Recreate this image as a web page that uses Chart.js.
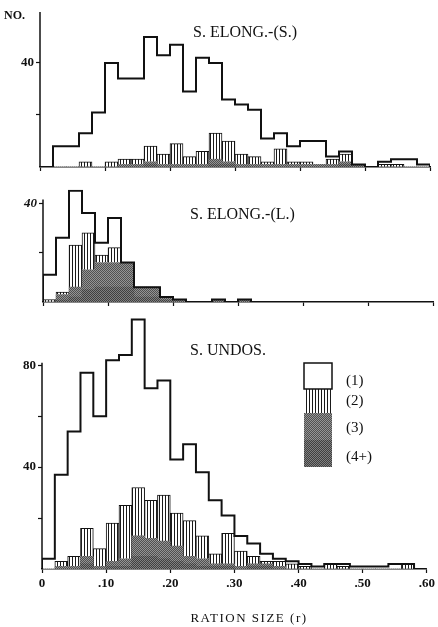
<!DOCTYPE html>
<html>
<head>
<meta charset="utf-8">
<script src="https://cdn.jsdelivr.net/npm/chart.js@4.4.0/dist/chart.umd.min.js"></script>
<style>
  body { margin: 0; background: #fff; }
  #fig { position: relative; width: 438px; height: 627px; overflow: hidden; }
  .panel { position: absolute; left: 0; width: 438px; }
</style>
</head>
<body>
<div id="fig">
  <div class="panel" style="top:0;height:185px"><canvas id="chTop"></canvas></div>
  <div class="panel" style="top:180px;height:135px"><canvas id="chMid"></canvas></div>
  <div class="panel" style="top:305px;height:322px"><canvas id="chBot"></canvas></div>
</div>
<script>
// classes de ration (r), largeur .02
const binStart = [0, .02, .04, .06, .08, .10, .12, .14, .16, .18,
                  .20, .22, .24, .26, .28, .30, .32, .34, .36, .38,
                  .40, .42, .44, .46, .48, .50, .52, .54, .56, .58];
const binWidth = 0.02;
const xTicks = [0, .1, .2, .3, .4, .5, .6];
const seriesNames = ['(1)', '(2)', '(3)', '(4+)'];

// S. ELONG.-(S.)
const elongS_1 = [0, 8, 8, 11, 21, 38, 31, 31, 42, 38, 38, 25, 36, 27, 16, 19, 18, 9, 6, 6, 8, 9, 1, 1, 0, 0, 1, 2, 3, 1];
const elongS_2 = [0, 0, 0, 2, 0, 2, 2, 2, 6, 4, 8, 3, 5, 10, 8, 4, 3, 1, 6, 1, 1, 0, 2, 3, 0, 0, 1, 1, 0, 0];
const elongS_3 = [0, 0, 0, 0, 0, 0, 1, 1, 1, 1, 1, 1, 1, 2, 1, 1, 1, 1, 1, 1, 1, 1, 1, 1, 1, 0, 0, 0, 0, 0];
const elongS_4 = [0, 0, 0, 0, 0, 0, 0, 0, 1, 0, 0, 0, 0, 1, 1, 0, 0, 0, 0, 0, 0, 0, 0, 1, 0, 0, 0, 0, 0, 0];

// S. ELONG.-(L.)
const elongL_1 = [10, 22, 22, 8, 5, 12, 0, 0, 0, 0, 0, 0, 0, 0, 0, 0, 0, 0, 0, 0, 0, 0, 0, 0, 0, 0, 0, 0, 0, 0];
const elongL_2 = [1, 1, 17, 15, 3, 6, 0, 0, 0, 0, 0, 0, 0, 0, 0, 0, 0, 0, 0, 0, 0, 0, 0, 0, 0, 0, 0, 0, 0, 0];
const elongL_3 = [0, 2, 4, 8, 10, 10, 10, 4, 4, 1, 1, 0, 0, 1, 0, 1, 0, 0, 0, 0, 0, 0, 0, 0, 0, 0, 0, 0, 0, 0];
const elongL_4 = [0, 1, 2, 5, 6, 6, 6, 2, 2, 1, 0, 0, 0, 0, 0, 0, 0, 0, 0, 0, 0, 0, 0, 0, 0, 0, 0, 0, 0, 0];

// S. UNDOS.
const undos_1 = [4, 34, 49, 61, 52, 64, 59, 66, 44, 45, 21, 30, 25, 21, 7, 6, 5, 3, 1, 1, 1, 1, 0, 1, 1, 1, 1, 2, 0, 0];
const undos_2 = [0, 2, 4, 11, 7, 15, 21, 19, 15, 18, 13, 14, 9, 4, 12, 6, 3, 1, 2, 2, 1, 0, 2, 1, 0, 0, 0, 0, 2, 0];
const undos_3 = [0, 1, 1, 3, 1, 2, 3, 8, 7, 7, 6, 3, 3, 1, 1, 1, 1, 1, 1, 0, 0, 0, 0, 0, 0, 0, 0, 0, 0, 0];
const undos_4 = [0, 0, 0, 2, 0, 1, 1, 5, 5, 4, 3, 2, 1, 1, 1, 0, 1, 1, 0, 0, 0, 0, 0, 0, 0, 0, 0, 0, 0, 0];

// motifs : hachures verticales et gris tramé
function makePattern(w, h, draw) {
  const c = document.createElement('canvas');
  c.width = w; c.height = h;
  const g = c.getContext('2d');
  draw(g);
  return g.createPattern(c, 'repeat');
}
const hatch = makePattern(3, 4, g => {
  g.fillStyle = '#fff'; g.fillRect(0, 0, 3, 4);
  g.fillStyle = '#1a1a1a'; g.fillRect(0, 0, 1, 4);
});
const grey3 = makePattern(2, 2, g => {
  g.fillStyle = '#949494'; g.fillRect(0, 0, 2, 2);
  g.fillStyle = '#505050'; g.fillRect(0, 0, 1, 1); g.fillRect(1, 1, 1, 1);
});
const grey4 = makePattern(2, 2, g => {
  g.fillStyle = '#808080'; g.fillRect(0, 0, 2, 2);
  g.fillStyle = '#404040'; g.fillRect(0, 0, 1, 1); g.fillRect(1, 1, 1, 1);
});

const ink = '#111';
const serif = 'Liberation Serif';

// textes libres + axe vertical raccourci + légende en colonne
const decorPlugin = {
  id: 'decor',
  afterDraw(chart, args, o) {
    const ctx = chart.ctx;
    const y = chart.scales.y;
    const left = chart.chartArea.left;
    ctx.save();
    // axe des y
    ctx.strokeStyle = ink;
    ctx.lineWidth = 1.5;
    ctx.beginPath();
    ctx.moveTo(left, y.getPixelForValue(0));
    ctx.lineTo(left, y.getPixelForValue(o.axisTop));
    ctx.stroke();
    // textes
    (o.texts || []).forEach(t => {
      ctx.font = t.font;
      ctx.fillStyle = ink;
      ctx.textAlign = t.align || 'left';
      ctx.textBaseline = 'alphabetic';
      ctx.letterSpacing = t.spacing || '0px';
      ctx.fillText(t.text, t.x, t.y);
    });
    ctx.letterSpacing = '0px';
    // légende
    if (o.legend) {
      const L = o.legend;
      const fills = ['#fff', hatch, grey3, grey4];
      let top = L.y;
      L.heights.forEach((h, i) => {
        ctx.fillStyle = fills[i];
        ctx.fillRect(L.x, top, L.w, h);
        top += h;
      });
      ctx.strokeStyle = ink;
      ctx.lineWidth = 1.5;
      ctx.strokeRect(L.x, L.y, L.w, L.heights[0]);
      ctx.font = '15px "' + serif + '"';
      ctx.textAlign = 'left';
      ctx.textBaseline = 'middle';
      ctx.fillStyle = ink;
      chart.data.datasets.filter(d => d.type === 'bar').forEach(d => {
        const i = seriesNames.indexOf(d.label);
        ctx.fillText(d.label, L.labelX, L.labelY[i]);
      });
    }
    ctx.restore();
  }
};

function fmtX(v) {
  if (v === 0) return '0';
  return '.' + String(Math.round(v * 100)).padStart(2, '0');
}

function makePanel(id, s1, s2, s3, s4, opt) {
  const total = s1.map((v, i) => v + s2[i] + s3[i] + s4[i]);
  const centers = binStart.map(b => b + binWidth / 2);
  const pts = arr => centers.map((x, i) => ({ x: x, y: arr[i] }));
  const outline = [{ x: 0, y: 0 }]
    .concat(binStart.map((b, i) => ({ x: b, y: total[i] })))
    .concat([{ x: xTicks[xTicks.length - 1], y: 0 }]);

  const barBase = { type: 'bar', barPercentage: 1, categoryPercentage: 1, borderWidth: 0, order: 1 };

  return new Chart(document.getElementById(id), {
    data: {
      datasets: [
        Object.assign({}, barBase, { label: '(4+)', data: pts(s4), backgroundColor: grey4 }),
        Object.assign({}, barBase, { label: '(3)', data: pts(s3), backgroundColor: grey3 }),
        Object.assign({}, barBase, { label: '(2)', data: pts(s2), backgroundColor: hatch,
          borderColor: ink, borderWidth: 1 }),
        Object.assign({}, barBase, { label: '(1)', data: pts(s1), backgroundColor: '#fff' }),
        // contour en escalier du total
        { type: 'line', label: 'total', data: outline, stepped: 'before', stack: 'outline',
          borderColor: ink, borderWidth: 2, pointRadius: 0, fill: false, order: 0 }
      ]
    },
    options: {
      responsive: true,
      maintainAspectRatio: false,
      animation: false,
      devicePixelRatio: 1,
      layout: { padding: { left: 0, right: opt.padRight, top: opt.padTop, bottom: 0 } },
      plugins: {
        legend: { display: false },
        tooltip: { enabled: false },
        decor: { axisTop: opt.axisTop, texts: opt.texts, legend: opt.legend }
      },
      scales: {
        x: {
          type: 'linear', min: 0, max: 0.6, stacked: true, offset: false,
          afterBuildTicks: s => { s.ticks = xTicks.map(v => ({ value: v })); },
          afterFit: s => { s.height = opt.xHeight; },
          grid: { offset: false, drawOnChartArea: false, drawTicks: true, tickLength: 4, tickColor: ink, tickWidth: 1.2 },
          border: { display: true, color: ink, width: 1.5 },
          ticks: { display: opt.xLabels, callback: v => fmtX(v), color: ink, padding: 3, maxRotation: 0,
            autoSkip: false, font: { family: serif, size: 13, weight: 'bold' } }
        },
        y: {
          min: 0, max: opt.yMax, stacked: true,
          afterBuildTicks: s => { s.ticks = opt.yTicks.map(v => ({ value: v })); },
          afterFit: s => { s.width = opt.yWidth; },
          grid: { drawOnChartArea: false, drawTicks: true, tickLength: 4, tickColor: ink, tickWidth: 1.2 },
          border: { display: false },
          ticks: { callback: v => opt.yLabels.includes(v) ? String(v) : '', color: ink, padding: 2,
            font: { family: serif, size: 13, weight: 'bold', style: opt.yItalic ? 'italic' : 'normal' } }
        }
      }
    },
    plugins: [decorPlugin]
  });
}

makePanel('chTop', elongS_1, elongS_2, elongS_3, elongS_4, {
  padTop: 12, padRight: 8, yWidth: 40, xHeight: 18, yMax: 59.6, axisTop: 59.6,
  yTicks: [20, 40], yLabels: [40], xLabels: false,
  texts: [
    { text: 'NO.', x: 4, y: 19, font: 'bold 12px "' + serif + '"' },
    { text: 'S. ELONG.-(S.)', x: 193, y: 37, font: '16px "' + serif + '"' }
  ]
});

makePanel('chMid', elongL_1, elongL_2, elongL_3, elongL_4, {
  padTop: 5, padRight: 5, yWidth: 43, xHeight: 13, yMax: 45.4, axisTop: 41.5,
  yTicks: [20, 40], yLabels: [40], xLabels: false, yItalic: true,
  texts: [
    { text: 'S. ELONG.-(L.)', x: 190, y: 39, font: '16px "' + serif + '"' }
  ]
});

makePanel('chBot', undos_1, undos_2, undos_3, undos_4, {
  padTop: 7, padRight: 6, yWidth: 42, xHeight: 58, yMax: 99.8, axisTop: 81,
  yTicks: [20, 40, 60, 80], yLabels: [40, 80], xLabels: true,
  texts: [
    { text: 'S. UNDOS.', x: 190, y: 50, font: '16px "' + serif + '"' },
    { text: 'RATION SIZE (r)', x: 249, y: 317, align: 'center', spacing: '1.5px', font: '13px "' + serif + '"' }
  ],
  legend: { x: 304, y: 58, w: 28, heights: [26, 24, 27, 27], labelX: 346, labelY: [76, 96, 123, 152] }
});
</script>
</body>
</html>
